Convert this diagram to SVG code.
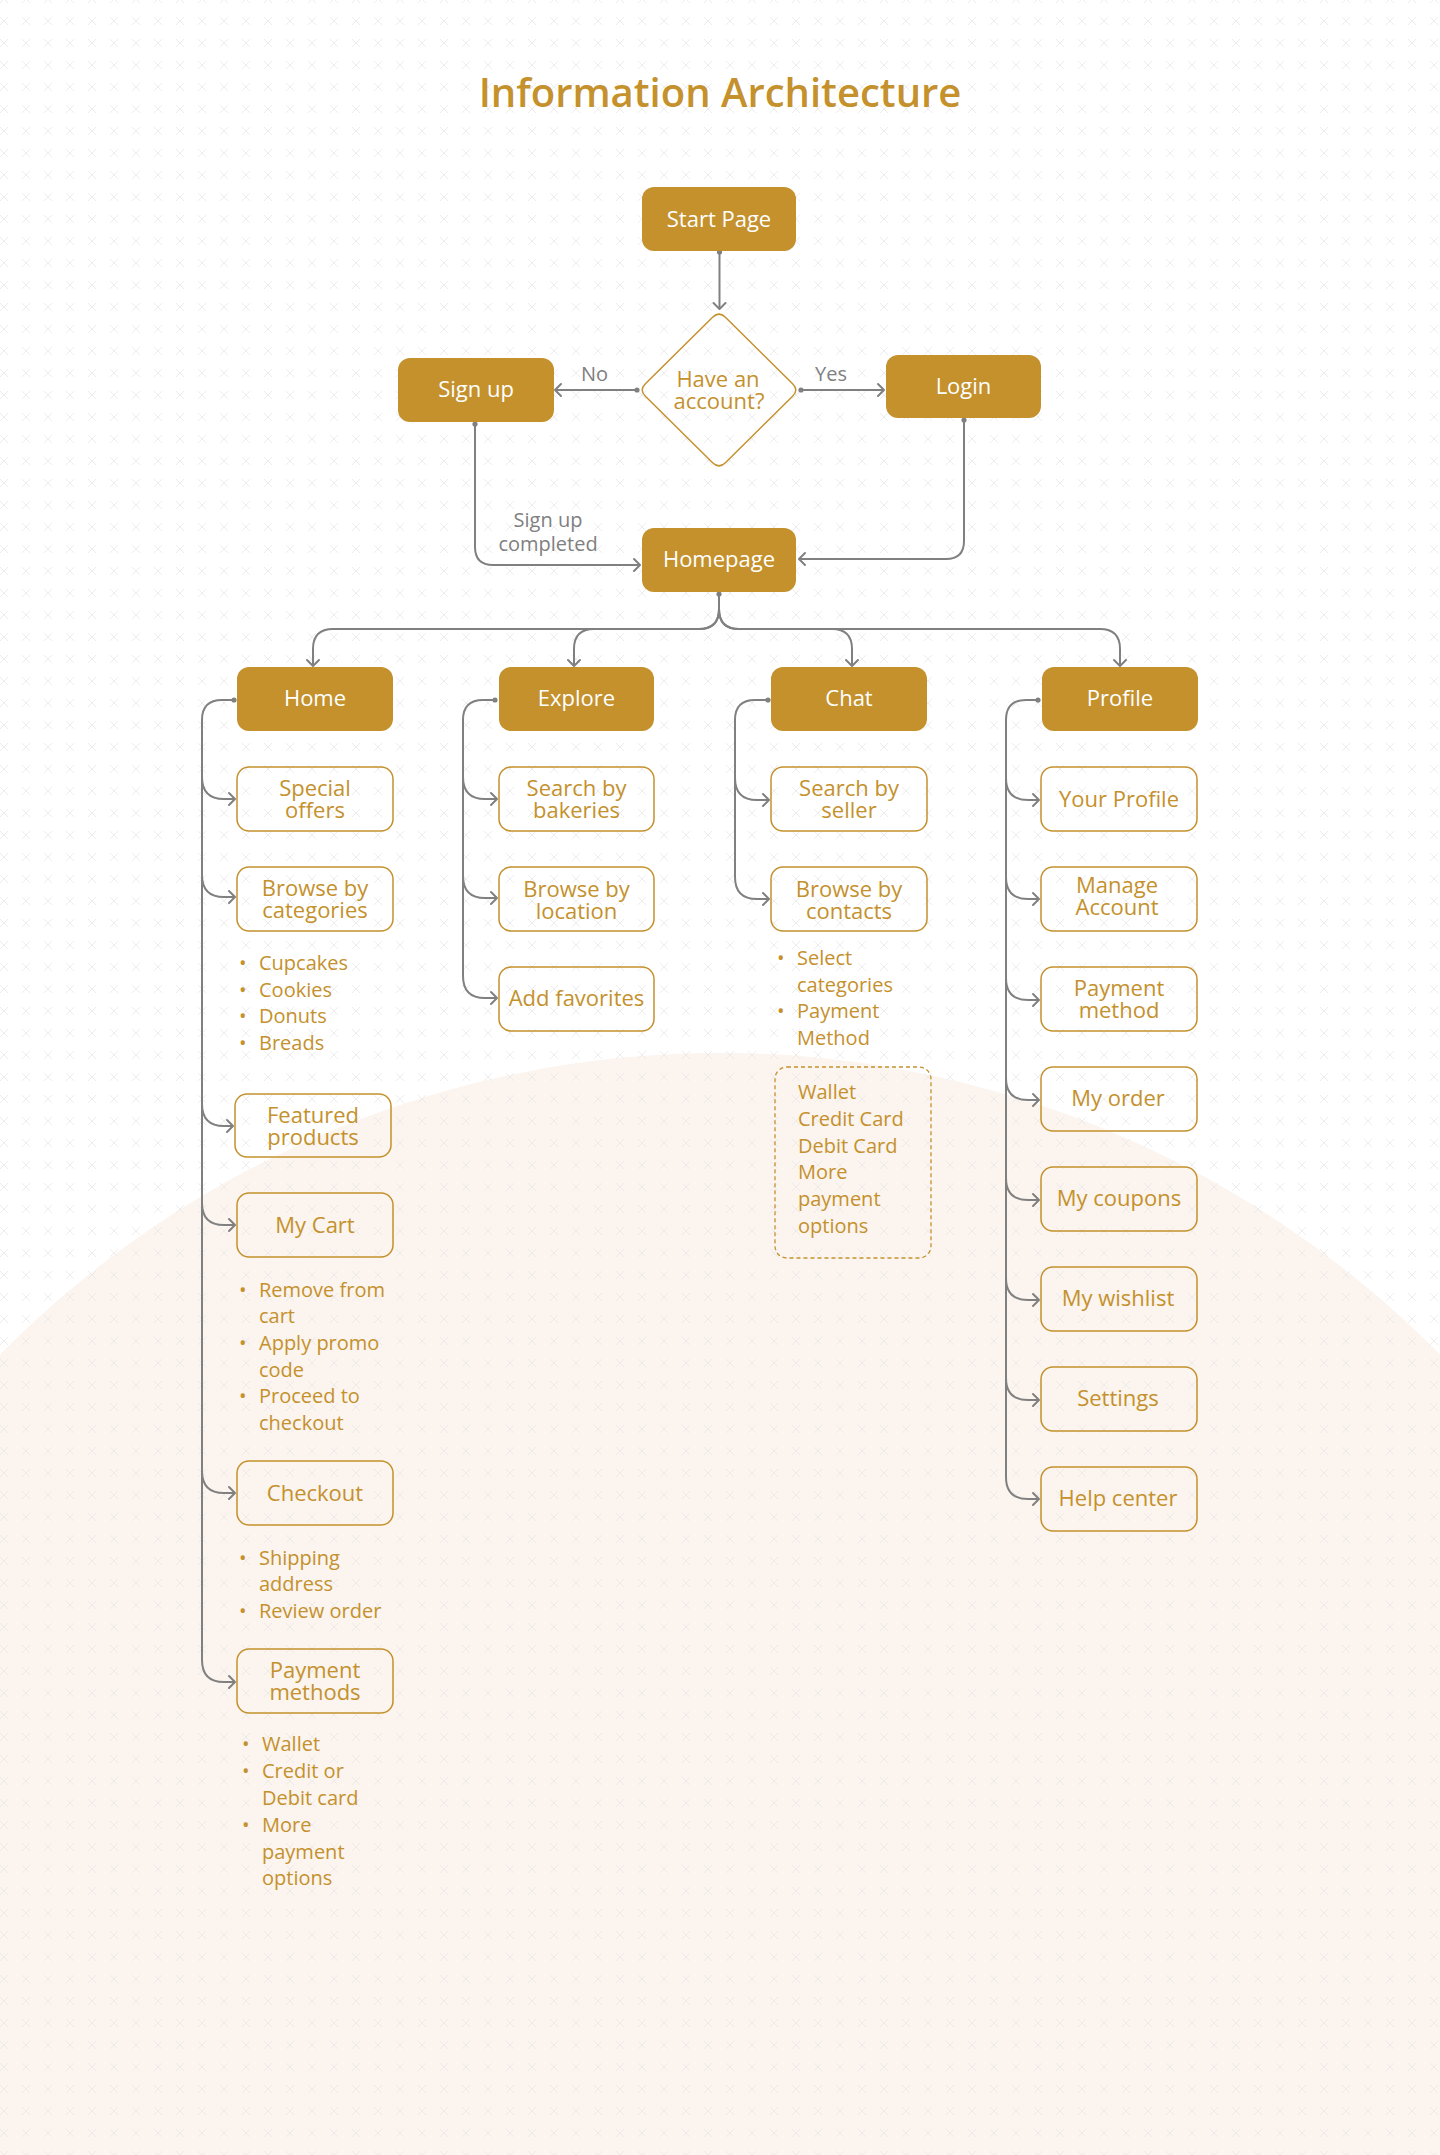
<svg xmlns="http://www.w3.org/2000/svg" width="1440" height="2155" viewBox="0 0 1440 2155">
<defs>
<pattern id="xpat" x="-7" y="10" width="22" height="22" patternUnits="userSpaceOnUse">
<path d="M7,7 L15,15 M15,7 L7,15" stroke="#e9e9e9" stroke-width="0.8" fill="none"/>
</pattern>
<marker id="ah" viewBox="-8 -8 10 16" markerWidth="10" markerHeight="16" refX="0" refY="0" orient="auto" markerUnits="userSpaceOnUse">
<path d="M-6,-6 L0,0 L-6,6" fill="none" stroke="#808080" stroke-width="2" stroke-linecap="round" stroke-linejoin="round"/>
</marker>
<marker id="dot" viewBox="-4 -4 8 8" markerWidth="8" markerHeight="8" refX="0" refY="0" orient="auto" markerUnits="userSpaceOnUse">
<circle cx="0" cy="0" r="2.6" fill="#808080"/>
</marker>
</defs>
<style>
.hdr{fill:#C4912D}
.box{fill:none;stroke:#C4912D;stroke-width:1.5}
.dash{fill:none;stroke:#C4912D;stroke-width:1.3;stroke-dasharray:4 3}
text{font-family:"Open Sans","Noto Sans","Liberation Sans",sans-serif}
.wt{fill:#ffffff;font-size:22px;text-anchor:middle}
.gt{fill:#C4912D;font-size:22px;text-anchor:middle}
.bl{fill:#C4912D;font-size:20px}
.lbl{fill:#808080;font-size:20px}
.title{fill:#C4912D;font-size:40px;font-weight:600;text-anchor:middle}
.conn path{fill:none;stroke:#808080;stroke-width:2}
.arr{marker-end:url(#ah)}
.st{marker-start:url(#dot)}
</style>
<rect x="0" y="0" width="1440" height="2155" fill="#ffffff"/>
<circle cx="720" cy="2063" r="1010" fill="#FCF4EE"/>
<rect x="0" y="0" width="1440" height="2155" fill="url(#xpat)"/>

<text class="title" x="720" y="107">Information Architecture</text>

<g id="connectors" class="conn">
<path class="arr st" d="M719.5,252 V309"/>
<path class="arr st" d="M637,390 H555"/>
<path class="arr st" d="M801,390 H884"/>
<path class="arr st" d="M475,424 V547 Q475,565 493,565 H640"/>
<path class="arr st" d="M964,420 V541 Q964,559 946,559 H799"/>
<path class="arr st" d="M719,594 V609 Q719,629 699,629 H333 Q313,629 313,649 V666"/>
<path class="arr" d="M719,594 V609 Q719,629 699,629 H594 Q574,629 574,649 V666"/>
<path class="arr" d="M719,594 V609 Q719,629 739,629 H832 Q852,629 852,649 V666"/>
<path class="arr" d="M719,594 V609 Q719,629 739,629 H1100 Q1120,629 1120,649 V666"/>
<path class="arr st" d="M234,700 H222 Q202,700 202,720 V1660 Q202,1682 224,1682 H235"/>
<path class="arr" d="M202,777 Q202,799 224,799 H235"/>
<path class="arr" d="M202,875 Q202,897 224,897 H235"/>
<path class="arr" d="M202,1104 Q202,1126 224,1126 H233"/>
<path class="arr" d="M202,1203 Q202,1225 224,1225 H235"/>
<path class="arr" d="M202,1471 Q202,1493 224,1493 H235"/>
<path class="arr st" d="M495,700 H483 Q463,700 463,720 V976 Q463,998 485,998 H497"/>
<path class="arr" d="M463,777 Q463,799 485,799 H497"/>
<path class="arr" d="M463,876 Q463,898 485,898 H497"/>
<path class="arr st" d="M768,700 H755 Q735,700 735,720 V877 Q735,899 757,899 H769"/>
<path class="arr" d="M735,778 Q735,800 757,800 H769"/>
<path class="arr st" d="M1038,700 H1026 Q1006,700 1006,720 V1477 Q1006,1499 1028,1499 H1039"/>
<path class="arr" d="M1006,778 Q1006,800 1028,800 H1039"/>
<path class="arr" d="M1006,877 Q1006,899 1028,899 H1039"/>
<path class="arr" d="M1006,978 Q1006,1000 1028,1000 H1039"/>
<path class="arr" d="M1006,1078 Q1006,1100 1028,1100 H1039"/>
<path class="arr" d="M1006,1178 Q1006,1200 1028,1200 H1039"/>
<path class="arr" d="M1006,1278 Q1006,1300 1028,1300 H1039"/>
<path class="arr" d="M1006,1378 Q1006,1400 1028,1400 H1039"/>
</g>
<g id="edge-labels">
<text class="lbl" x="581" y="381">No</text>
<text class="lbl" x="815" y="381">Yes</text>
<text class="lbl" text-anchor="middle"><tspan x="548" y="527">Sign up</tspan><tspan x="548" y="551">completed</tspan></text>
</g>

<g id="start-page"><rect class="hdr" x="642" y="187" width="154" height="64" rx="12"/><text class="wt" x="719" y="227">Start Page</text></g>
<g id="have-account">
<path d="M712.6,317.3 Q719,311 725.4,317.3 L792.6,383.7 Q799,390 792.6,396.3 L725.4,462.7 Q719,469 712.6,462.7 L645.4,396.3 Q639,390 645.4,383.7 Z" fill="none" stroke="#C4912D" stroke-width="1.5"/>
<text class="gt"><tspan x="718" y="387">Have an</tspan><tspan x="719" y="409">account?</tspan></text>
</g>
<g id="sign-up"><rect class="hdr" x="398" y="358" width="156" height="64" rx="12"/><text class="wt" x="476" y="397">Sign up</text></g>
<g id="login"><rect class="hdr" x="886" y="355" width="155" height="63" rx="12"/><text class="wt" x="963.5" y="394">Login</text></g>
<g id="homepage"><rect class="hdr" x="642" y="528" width="154" height="64" rx="12"/><text class="wt" x="719" y="567">Homepage</text></g>

<g id="home"><rect class="hdr" x="237" y="667" width="156" height="64" rx="12"/><text class="wt" x="315" y="706">Home</text></g>
<g id="explore"><rect class="hdr" x="499" y="667" width="155" height="64" rx="12"/><text class="wt" x="576.5" y="706">Explore</text></g>
<g id="chat"><rect class="hdr" x="771" y="667" width="156" height="64" rx="12"/><text class="wt" x="849" y="706">Chat</text></g>
<g id="profile"><rect class="hdr" x="1042" y="667" width="156" height="64" rx="12"/><text class="wt" x="1120" y="706">Profile</text></g>

<g id="special-offers"><rect class="box" x="237" y="767" width="156" height="64" rx="12"/><text class="gt"><tspan x="315" y="796">Special</tspan><tspan x="315" y="818">offers</tspan></text></g>
<g id="browse-categories"><rect class="box" x="237" y="867" width="156" height="64" rx="12"/><text class="gt"><tspan x="315" y="896">Browse by</tspan><tspan x="315" y="918">categories</tspan></text></g>
<g id="categories-list">
<text class="bl"><tspan x="239" y="970">•</tspan><tspan x="259" y="970">Cupcakes</tspan><tspan x="239" y="996.7">•</tspan><tspan x="259" y="996.7">Cookies</tspan><tspan x="239" y="1023.3">•</tspan><tspan x="259" y="1023.3">Donuts</tspan><tspan x="239" y="1050">•</tspan><tspan x="259" y="1050">Breads</tspan></text>
</g>
<g id="featured-products"><rect class="box" x="235" y="1094" width="156" height="63" rx="12"/><text class="gt"><tspan x="313" y="1123">Featured</tspan><tspan x="313" y="1145">products</tspan></text></g>
<g id="my-cart"><rect class="box" x="237" y="1193" width="156" height="64" rx="12"/><text class="gt" x="315" y="1233">My Cart</text></g>
<g id="cart-list">
<text class="bl"><tspan x="239" y="1296.7">•</tspan><tspan x="259" y="1296.7">Remove from</tspan><tspan x="259" y="1323.3">cart</tspan><tspan x="239" y="1350">•</tspan><tspan x="259" y="1350">Apply promo</tspan><tspan x="259" y="1376.7">code</tspan><tspan x="239" y="1403.3">•</tspan><tspan x="259" y="1403.3">Proceed to</tspan><tspan x="259" y="1430">checkout</tspan></text>
</g>
<g id="checkout"><rect class="box" x="237" y="1461" width="156" height="64" rx="12"/><text class="gt" x="315" y="1501">Checkout</text></g>
<g id="checkout-list">
<text class="bl"><tspan x="239" y="1564.5">•</tspan><tspan x="259" y="1564.5">Shipping</tspan><tspan x="259" y="1591">address</tspan><tspan x="239" y="1617.5">•</tspan><tspan x="259" y="1617.5">Review order</tspan></text>
</g>
<g id="payment-methods"><rect class="box" x="237" y="1649" width="156" height="64" rx="12"/><text class="gt"><tspan x="315" y="1678">Payment</tspan><tspan x="315" y="1700">methods</tspan></text></g>
<g id="payment-list">
<text class="bl"><tspan x="242" y="1751">•</tspan><tspan x="262" y="1751">Wallet</tspan><tspan x="242" y="1778">•</tspan><tspan x="262" y="1778">Credit or</tspan><tspan x="262" y="1805">Debit card</tspan><tspan x="242" y="1832">•</tspan><tspan x="262" y="1832">More</tspan><tspan x="262" y="1858.5">payment</tspan><tspan x="262" y="1885">options</tspan></text>
</g>

<g id="search-bakeries"><rect class="box" x="499" y="767" width="155" height="64" rx="12"/><text class="gt"><tspan x="576.5" y="796">Search by</tspan><tspan x="576.5" y="818">bakeries</tspan></text></g>
<g id="browse-location"><rect class="box" x="499" y="867" width="155" height="64" rx="12"/><text class="gt"><tspan x="576.5" y="897">Browse by</tspan><tspan x="576.5" y="919">location</tspan></text></g>
<g id="add-favorites"><rect class="box" x="499" y="967" width="155" height="64" rx="12"/><text class="gt" x="576.5" y="1006">Add favorites</text></g>

<g id="search-seller"><rect class="box" x="771" y="767" width="156" height="64" rx="12"/><text class="gt"><tspan x="849" y="796">Search by</tspan><tspan x="849" y="818">seller</tspan></text></g>
<g id="browse-contacts"><rect class="box" x="771" y="867" width="156" height="64" rx="12"/><text class="gt"><tspan x="849" y="897">Browse by</tspan><tspan x="849" y="919">contacts</tspan></text></g>
<g id="chat-list">
<text class="bl"><tspan x="777" y="965">•</tspan><tspan x="797" y="965">Select</tspan><tspan x="797" y="991.7">categories</tspan><tspan x="777" y="1018.3">•</tspan><tspan x="797" y="1018.3">Payment</tspan><tspan x="797" y="1045">Method</tspan></text>
</g>
<g id="payment-options"><rect class="dash" x="775" y="1067" width="156" height="191" rx="12"/>
<text class="bl"><tspan x="798" y="1099">Wallet</tspan><tspan x="798" y="1125.8">Credit Card</tspan><tspan x="798" y="1152.6">Debit Card</tspan><tspan x="798" y="1179.4">More</tspan><tspan x="798" y="1206.2">payment</tspan><tspan x="798" y="1233">options</tspan></text>
</g>

<g id="your-profile"><rect class="box" x="1041" y="767" width="156" height="64" rx="12"/><text class="gt" x="1119" y="807">Your Profile</text></g>
<g id="manage-account"><rect class="box" x="1041" y="867" width="156" height="64" rx="12"/><text class="gt"><tspan x="1117" y="893">Manage</tspan><tspan x="1117" y="915">Account</tspan></text></g>
<g id="payment-method"><rect class="box" x="1041" y="967" width="156" height="64" rx="12"/><text class="gt"><tspan x="1119" y="996">Payment</tspan><tspan x="1119" y="1018">method</tspan></text></g>
<g id="my-order"><rect class="box" x="1041" y="1067" width="156" height="64" rx="12"/><text class="gt" x="1118" y="1106">My order</text></g>
<g id="my-coupons"><rect class="box" x="1041" y="1167" width="156" height="64" rx="12"/><text class="gt" x="1119" y="1206">My coupons</text></g>
<g id="my-wishlist"><rect class="box" x="1041" y="1267" width="156" height="64" rx="12"/><text class="gt" x="1118" y="1306">My wishlist</text></g>
<g id="settings"><rect class="box" x="1041" y="1367" width="156" height="64" rx="12"/><text class="gt" x="1118" y="1406">Settings</text></g>
<g id="help-center"><rect class="box" x="1041" y="1467" width="156" height="64" rx="12"/><text class="gt" x="1118" y="1506">Help center</text></g>
</svg>
